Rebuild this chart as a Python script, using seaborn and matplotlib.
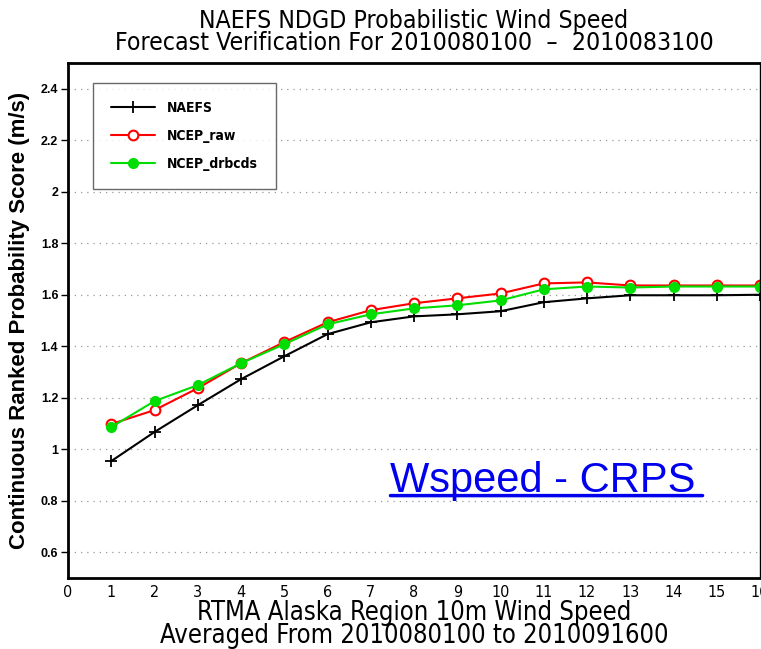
import numpy as np
import pandas as pd
import seaborn as sns
import matplotlib.pyplot as plt

lead_days = list(range(1, 17))
naefs = [0.954, 1.067, 1.171, 1.272, 1.361, 1.447, 1.493, 1.516, 1.524, 1.536,
         1.571, 1.586, 1.598, 1.598, 1.598, 1.600]
ncep_raw = [1.098, 1.152, 1.237, 1.334, 1.416, 1.493, 1.540, 1.567, 1.586, 1.605,
            1.644, 1.648, 1.636, 1.636, 1.636, 1.636]
ncep_drbcds = [1.086, 1.187, 1.249, 1.334, 1.408, 1.485, 1.524, 1.547, 1.559, 1.578,
               1.621, 1.632, 1.628, 1.632, 1.632, 1.632]
series_names = ['NAEFS', 'NCEP_raw', 'NCEP_drbcds']
yticks = [0.6, 0.8, 1, 1.2, 1.4, 1.6, 1.8, 2, 2.2, 2.4]
ytick_labels = ['0.6', '0.8', '1', '1.2', '1.4', '1.6', '1.8', '2', '2.2', '2.4']

df = pd.DataFrame({'day': lead_days * 3,
                   'crps': naefs + ncep_raw + ncep_drbcds,
                   'model': np.repeat(series_names, len(lead_days))})

sns.set_theme(style='white')
plt.rcParams['font.family'] = ['DejaVu Sans']
plt.rcParams['font.stretch'] = 'condensed'
plt.rcParams['text.color'] = 'black'
plt.rcParams['axes.labelcolor'] = 'black'
plt.rcParams['xtick.color'] = 'black'
plt.rcParams['ytick.color'] = 'black'

fig = plt.figure(figsize=(7.61, 6.49), dpi=100)
ax = fig.add_axes([68 / 761, 1 - 578 / 649, 692 / 761, 515 / 649])

for y in yticks:
    ax.axhline(y, color='#999999', lw=0.9, ls=(0, (1, 4)), zorder=0)

styles = {
    'NAEFS': dict(color='black', marker='+', markersize=9, mew=1.3, mfc='black'),
    'NCEP_raw': dict(color='#ff0000', marker='o', markersize=7, mew=1.5, mfc='white'),
    'NCEP_drbcds': dict(color='#00dd00', marker='o', markersize=8, mew=0, mfc='#00dd00'),
}
for name in series_names:
    sub = df[df['model'] == name]
    sns.lineplot(data=sub, x='day', y='crps', ax=ax, label=name, lw=1.5,
                 color=styles[name]['color'], marker=styles[name]['marker'],
                 markersize=styles[name]['markersize'], markeredgewidth=styles[name]['mew'],
                 markerfacecolor=styles[name]['mfc'], markeredgecolor=styles[name]['color'],
                 errorbar=None)

ax.set_xlim(0, 16)
ax.set_ylim(0.5, 2.5)
ax.set_xticks(range(0, 17))
ax.set_xticklabels([str(i) for i in range(0, 17)], fontsize=11.5)
ax.set_yticks(yticks)
ax.set_yticklabels(ytick_labels, fontsize=9, fontweight='bold', family='Liberation Sans',
                   stretch='normal')
ax.tick_params(axis='y', left=True, length=5, width=1, color='black', pad=2)
ax.tick_params(axis='x', bottom=False, pad=-1)
for side in ['left', 'bottom', 'top']:
    ax.spines[side].set_linewidth(2)
    ax.spines[side].set_color('black')
ax.spines['right'].set_linewidth(1)
ax.spines['right'].set_color('black')

ax.set_xlabel('RTMA Alaska Region 10m Wind Speed\nAveraged From 2010080100 to 2010091600',
              fontsize=18.4, linespacing=0.85, labelpad=0)
ax.set_ylabel('Continuous Ranked Probability Score (m/s)', fontsize=16,
              fontweight='bold', family='Liberation Sans', stretch='normal', labelpad=8)
ax.set_title('NAEFS NDGD Probabilistic Wind Speed\n'
             'Forecast Verification For 2010080100  \u2013  2010083100',
             fontsize=17.8, linespacing=0.92, pad=9)

leg = ax.legend(loc='upper left', bbox_to_anchor=(0.036, 0.961), borderaxespad=0,
                frameon=True, fancybox=False,
                edgecolor='#444444', handlelength=3.2, labelspacing=1.0, borderpad=1.3,
                prop={'weight': 'bold', 'size': 10})
leg.get_frame().set_linewidth(1)

ax.text(0.466, 0.167, 'Wspeed - CRPS', transform=ax.transAxes, fontsize=30,
        color='#0000ee', family='Liberation Sans', stretch='normal')
ax.annotate('', xy=(0.466, 0.16), xytext=(0.917, 0.16), xycoords='axes fraction',
            arrowprops=dict(arrowstyle='-', color='#0000ee', lw=2.5, shrinkA=0, shrinkB=0))

fig.savefig('out.png', dpi=100)
